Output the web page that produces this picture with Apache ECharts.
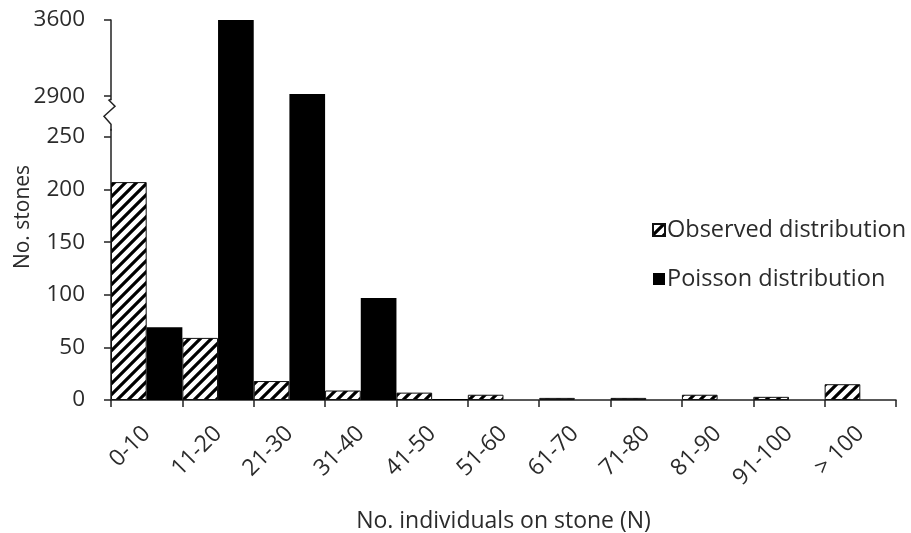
<!DOCTYPE html>
<html>
<head>
<meta charset="utf-8">
<script src="https://cdn.jsdelivr.net/npm/echarts@6/dist/echarts.min.js"></script>
<style>
html,body{margin:0;padding:0;background:#fff;}
#chart{width:911px;height:533px;}
</style>
</head>
<body>
<div id="chart"></div>
<script>
// ---- data ----
const categories = ['0-10','11-20','21-30','31-40','41-50','51-60','61-70','71-80','81-90','91-100','> 100'];
const observed = [207, 59, 18, 9, 7, 5, 2, 2, 5, 3, 15];
const poisson = [69, 3600, 2920, 97, 1, 0, 0, 0, 0, 0, 0];
const yTickValues = [0, 50, 100, 150, 200, 250, 2900, 3600];
const seriesNames = ['Observed distribution', 'Poisson distribution'];

// ---- broken-axis mapping ----
const LOW_MAX = 250, HIGH_MIN = 2900, HIGH_MAX = 3600, GAP = 38.6, UPPER = 72.4;
function toAxis(v){
  if (v <= LOW_MAX) return v;
  if (v >= HIGH_MIN) return LOW_MAX + GAP + (v - HIGH_MIN) * UPPER / (HIGH_MAX - HIGH_MIN);
  return LOW_MAX + (v - LOW_MAX) / (HIGH_MIN - LOW_MAX) * GAP;
}
function fromAxis(a){
  if (a <= LOW_MAX + 1e-6) return a;
  if (a >= LOW_MAX + GAP - 1e-6) return HIGH_MIN + (a - LOW_MAX - GAP) * (HIGH_MAX - HIGH_MIN) / UPPER;
  return LOW_MAX + (a - LOW_MAX) / GAP * (HIGH_MIN - LOW_MAX);
}

function hatchPattern(){
  const s = 11;
  const c = document.createElement('canvas');
  c.width = s; c.height = s;
  const ctx = c.getContext('2d');
  ctx.fillStyle = '#fff';
  ctx.fillRect(0, 0, s, s);
  ctx.strokeStyle = '#000';
  ctx.lineWidth = 3.2;
  ctx.beginPath();
  ctx.moveTo(-2, s + 2); ctx.lineTo(s + 2, -2);
  ctx.moveTo(-2, 2); ctx.lineTo(2, -2);
  ctx.moveTo(s - 2, s + 2); ctx.lineTo(s + 2, s - 2);
  ctx.stroke();
  return c;
}

const FONT = '"Open Sans", sans-serif';
const TXT = '#2b2b2b';
const GRID = {left: 111, right: 15, top: 20, bottom: 133};

const chart = echarts.init(document.getElementById('chart'), null, {renderer: 'canvas'});
const axisMax = toAxis(HIGH_MAX);
const customY = yTickValues.map(toAxis);

chart.setOption({
  animation: false,
  backgroundColor: '#fff',
  textStyle: {fontFamily: FONT},
  grid: Object.assign({outerBoundsMode: 'none', containLabel: false}, GRID),
  legend: {
    orient: 'vertical',
    left: 647, top: 213,
    itemWidth: 12, itemHeight: 12, itemGap: 25,
    icon: 'rect',
    textStyle: {fontFamily: FONT, fontSize: 23.5, color: TXT, padding: [0,0,0,-3]},
    data: seriesNames
  },
  xAxis: {
    type: 'category',
    data: categories,
    name: 'No. individuals on stone (N)',
    nameLocation: 'middle',
    nameGap: 110,
    nameTextStyle: {fontFamily: FONT, fontSize: 23, color: TXT},
    axisLine: {lineStyle: {color: '#222', width: 1.5}},
    axisTick: {show: true, length: 7, lineStyle: {color: '#222', width: 1.5}},
    axisLabel: {rotate: 45, margin: 30, fontFamily: FONT, fontSize: 23, color: TXT, interval: 0}
  },
  yAxis: {
    type: 'value',
    min: 0, max: axisMax,
    name: 'No. stones',
    nameLocation: 'middle',
    nameGap: 77,
    nameMoveOverlap: false,
    nameTextStyle: {fontFamily: FONT, fontSize: 21, color: TXT, padding: [0, 14, 0, 0]},
    splitLine: {show: false},
    axisLine: {show: true, lineStyle: {color: '#222', width: 1.5}},
    axisTick: {show: true, length: 7, customValues: customY, lineStyle: {color: '#222', width: 1.5}},
    axisLabel: {
      customValues: customY,
      margin: 26,
      fontFamily: FONT, fontSize: 22.5, color: TXT,
      formatter: function(v){ return String(Math.round(fromAxis(v))); }
    }
  },
  series: [
    {
      name: seriesNames[0], type: 'bar',
      barGap: '0%', barCategoryGap: '0%',
      data: observed.map(toAxis),
      itemStyle: {color: {image: hatchPattern(), repeat: 'repeat'}, borderColor: '#111', borderWidth: 1}
    },
    {
      name: seriesNames[1], type: 'bar',
      barGap: '0%', barCategoryGap: '0%',
      data: poisson.map(toAxis),
      itemStyle: {color: '#000', borderColor: '#000', borderWidth: 0}
    }
  ]
});

// axis-break zigzag decoration
const yHi = chart.convertToPixel({yAxisIndex: 0}, toAxis(HIGH_MIN));
const yLo = chart.convertToPixel({yAxisIndex: 0}, toAxis(LOW_MAX));
const ax = GRID.left;
chart.setOption({
  graphic: [
    {type: 'rect', shape: {x: ax - 3, y: yHi + 4, width: 6, height: (yLo - yHi) - 12}, style: {fill: '#fff'}, z: 100},
    {type: 'polyline', shape: {points: [[ax, yHi + 3], [ax - 2, yHi + 4], [ax + 4, yHi + 10], [ax - 7, yHi + 20], [ax, yHi + 28], [ax, yLo - 6]]},
      style: {stroke: '#222', lineWidth: 1.5, fill: null}, z: 101}
  ]
});
</script>
</body>
</html>
